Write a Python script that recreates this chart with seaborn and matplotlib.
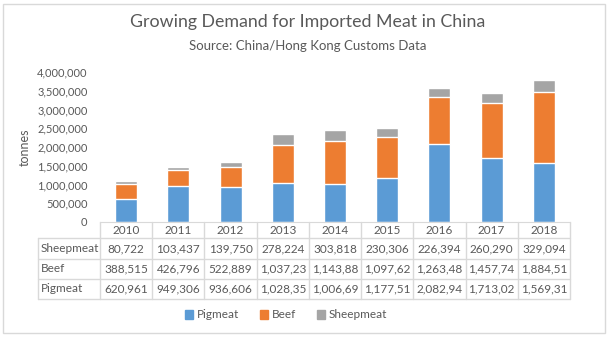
import matplotlib
matplotlib.use('Agg')
import matplotlib.pyplot as plt
import seaborn as sns
import pandas as pd
from matplotlib.lines import Line2D
from matplotlib.patches import Rectangle
from matplotlib.ticker import FuncFormatter

# data (read from the chart's data table; truncated cells estimated)
years = ['2010', '2011', '2012', '2013', '2014', '2015', '2016', '2017', '2018']
pigmeat = [620961, 949306, 936606, 1028350, 1006690, 1177510, 2082940, 1713020, 1569310]
beef = [388515, 426796, 522889, 1037230, 1143880, 1097620, 1263480, 1457740, 1884510]
sheepmeat = [80722, 103437, 139750, 278224, 303818, 230306, 226394, 260290, 329094]

series_names = ['Pigmeat', 'Beef', 'Sheepmeat']
colors = {'Pigmeat': '#5B9BD5', 'Beef': '#ED7D31', 'Sheepmeat': '#A5A5A5'}

df = pd.DataFrame({'Year': years, 'Pigmeat': pigmeat, 'Beef': beef, 'Sheepmeat': sheepmeat})
df['pig_top'] = df['Pigmeat']
df['beef_top'] = df['Pigmeat'] + df['Beef']
df['sheep_top'] = df['beef_top'] + df['Sheepmeat']

sns.set_style('white')
plt.rcParams['font.family'] = ['Lato', 'DejaVu Sans']
txt = '#595959'
grid_c = '#D9D9D9'

W, H = 615, 358
fig = plt.figure(figsize=(W / 100, H / 100), dpi=100)

def fx(px):
    return px / W

def fy(py):
    return 1 - py / H

x0, x1, y_top, y_bot = 100, 570, 72, 222
ax = fig.add_axes([fx(x0), fy(y_bot), fx(x1) - fx(x0), fy(y_top) - fy(y_bot)])

# stacked bars: draw cumulative totals back to front
sns.barplot(data=df, x='Year', y='sheep_top', color=colors['Sheepmeat'], width=0.42, ax=ax, saturation=1)
sns.barplot(data=df, x='Year', y='beef_top', color=colors['Beef'], width=0.42, ax=ax, saturation=1)
sns.barplot(data=df, x='Year', y='pig_top', color=colors['Pigmeat'], width=0.42, ax=ax, saturation=1)

ax.set_ylim(0, 4000000)
ax.set_xlim(-0.5, len(years) - 0.5)
ax.set_yticks(range(0, 4000001, 500000))
ax.yaxis.set_major_formatter(FuncFormatter(lambda v, p: f'{int(v):,}'))
ax.tick_params(axis='y', length=0, labelsize=8, labelcolor=txt, pad=9)
ax.set_xticks([])
ax.set_xlabel('')
ax.set_ylabel('')
for s in ['top', 'right', 'left']:
    ax.spines[s].set_visible(False)
ax.spines['bottom'].set_color(grid_c)

# outer chart border
fig.patches.append(Rectangle((fx(3), fy(333)), fx(605) - fx(3), fy(4) - fy(333),
                             transform=fig.transFigure, fill=False, edgecolor=grid_c, lw=1))

# titles
fig.text(0.5, fy(22), 'Growing Demand for Imported Meat in China', ha='center', va='center',
         fontsize=12.8, color=txt)
fig.text(0.5, fy(46), 'Source: China/Hong Kong Customs Data', ha='center', va='center',
         fontsize=9.5, color=txt)
fig.text(fx(25), fy(147), 'tonnes', rotation=90, ha='center', va='center', fontsize=9, color=txt)

# data table
col_w = (x1 - x0) / len(years)
row_lines = [222, 238, 259, 279, 299]
lab_left = 38

def hline(y, xa, xb):
    fig.add_artist(Line2D([fx(xa), fx(xb)], [fy(y), fy(y)], color=grid_c, lw=1))

def vline(x, ya, yb):
    fig.add_artist(Line2D([fx(x), fx(x)], [fy(ya), fy(yb)], color=grid_c, lw=1))

for y in row_lines[1:]:
    hline(y, lab_left, x1)
vline(lab_left, row_lines[1], row_lines[-1])
for i in range(len(years) + 1):
    vline(x0 + i * col_w, row_lines[0], row_lines[-1])

for i, yr in enumerate(years):
    fig.text(fx(x0 + (i + 0.5) * col_w), fy((row_lines[0] + row_lines[1]) / 2), yr,
             ha='center', va='center', fontsize=8.5, color=txt)

table_rows = [('Sheepmeat', sheepmeat), ('Beef', beef), ('Pigmeat', pigmeat)]
for r, (name, vals) in enumerate(table_rows):
    yc = (row_lines[r + 1] + row_lines[r + 2]) / 2
    fig.text(fx(lab_left + 3), fy(yc), name, ha='left', va='center', fontsize=8.5, color=txt)
    for i, v in enumerate(vals):
        s = f'{v:,}'[:8]
        fig.text(fx(x0 + (i + 0.5) * col_w), fy(yc), s, ha='center', va='center',
                 fontsize=8.5, color=txt)

# legend
handles = [Rectangle((0, 0), 1, 1, color=colors[n]) for n in series_names]
fig.legend(handles, series_names, loc='center', bbox_to_anchor=(fx(286), fy(315)), ncol=3,
           frameon=False, fontsize=8.5, labelcolor=txt, handlelength=0.7, handleheight=0.7,
           handletextpad=0.3, columnspacing=1.8)

fig.savefig('out.png', dpi=100)
